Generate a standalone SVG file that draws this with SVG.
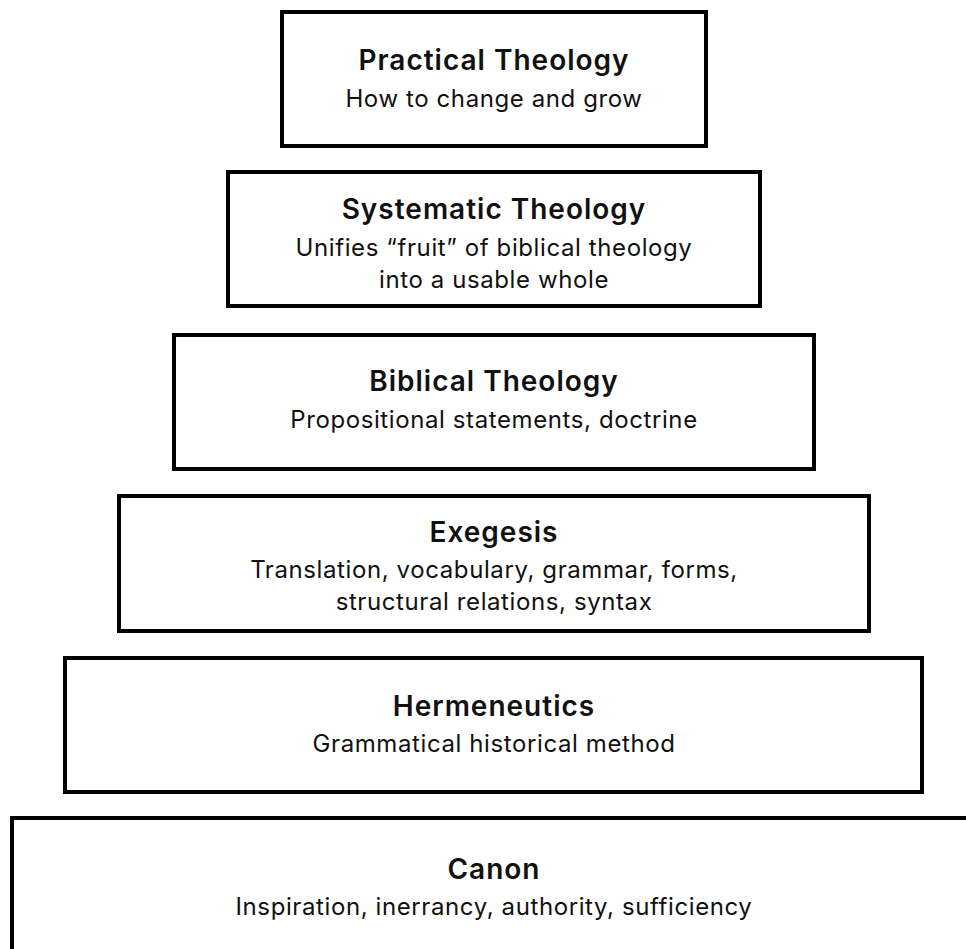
<svg xmlns="http://www.w3.org/2000/svg" width="966" height="949" viewBox="0 0 966 949">
<style>
.box{fill:#fff;stroke:#000;stroke-width:4}
.t{font-family:Inter,"Liberation Sans",sans-serif;font-weight:600;font-size:28px;letter-spacing:1px;fill:#111;text-anchor:middle}
.s{font-family:Inter,"Liberation Sans",sans-serif;font-weight:400;font-size:24px;letter-spacing:0.6px;fill:#111;text-anchor:middle}
</style>
<rect width="966" height="949" fill="#fff"/>
<g id="connectors"></g>
<g id="practical">
<rect class="box" x="282" y="12" width="424" height="134"/>
<text class="t" x="494" y="70">Practical Theology</text>
<text class="s" x="494" y="107">How to change and grow</text>
</g>
<g id="systematic">
<rect class="box" x="228" y="172" width="532" height="134"/>
<text class="t" x="494" y="219">Systematic Theology</text>
<text class="s" x="494" y="256">Unifies “fruit” of biblical theology</text>
<text class="s" x="494" y="288">into a usable whole</text>
</g>
<g id="biblical">
<rect class="box" x="174" y="335" width="640" height="134"/>
<text class="t" x="494" y="391">Biblical Theology</text>
<text class="s" x="494" y="428">Propositional statements, doctrine</text>
</g>
<g id="exegesis">
<rect class="box" x="119" y="496" width="750" height="135"/>
<text class="t" x="494" y="542">Exegesis</text>
<text class="s" x="494" y="578">Translation, vocabulary, grammar, forms,</text>
<text class="s" x="494" y="610">structural relations, syntax</text>
</g>
<g id="hermeneutics">
<rect class="box" x="65" y="658" width="857" height="134"/>
<text class="t" x="494" y="716">Hermeneutics</text>
<text class="s" x="494" y="752">Grammatical historical method</text>
</g>
<g id="canon">
<rect class="box" x="12" y="818" width="964" height="140"/>
<text class="t" x="494" y="879">Canon</text>
<text class="s" x="494" y="915">Inspiration, inerrancy, authority, sufficiency</text>
</g>
</svg>
